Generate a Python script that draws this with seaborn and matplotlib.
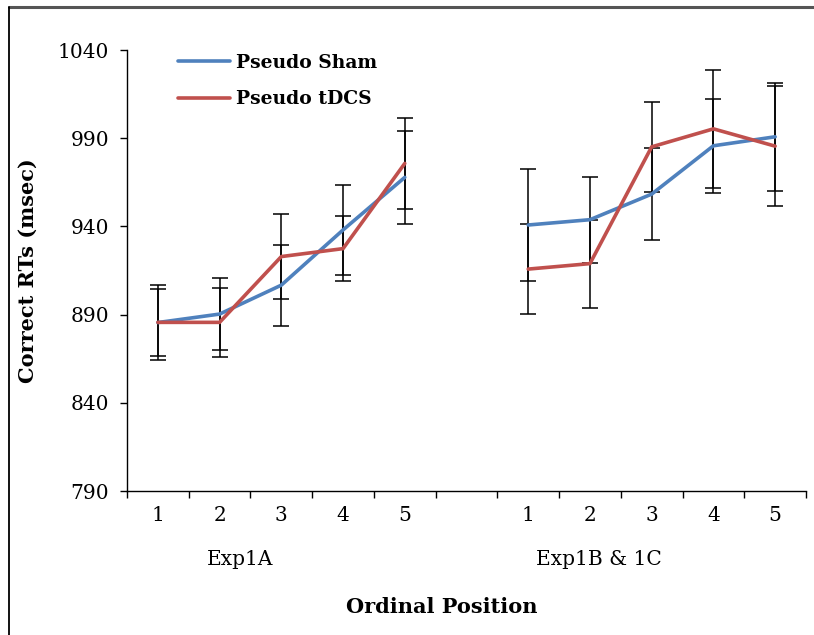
import matplotlib
matplotlib.use("Agg")
import matplotlib.pyplot as plt
from matplotlib.lines import Line2D
from matplotlib.ticker import FixedLocator, NullFormatter
import seaborn as sns
import pandas as pd
import numpy as np

# ---- data ----
positions = ["1", "2", "3", "4", "5"]
groups = ["Exp1A", "Exp1B & 1C"]
series = ["Pseudo Sham", "Pseudo tDCS"]

sham_1a = [885.5, 890.3, 906.7, 938.0, 967.8]
tdcs_1a = [885.6, 885.6, 922.9, 927.4, 975.7]
sham_1bc = [940.8, 943.8, 958.3, 985.7, 990.8]
tdcs_1bc = [915.8, 918.9, 985.1, 995.3, 985.5]

sham_1a_err = [21.5, 20.5, 23.0, 25.6, 26.2]
tdcs_1a_err = [19.1, 19.6, 24.0, 18.3, 25.8]
sham_1bc_err = [31.8, 24.4, 25.9, 26.8, 30.5]
tdcs_1bc_err = [25.4, 24.9, 25.4, 33.3, 34.2]

y_ticks = [790, 840, 890, 940, 990, 1040]

# category slots: group 1 in 0..4, empty slot 5, group 2 in 6..10
tick_labels = positions + [""] + positions
slot_1a = list(range(0, 5))
slot_1bc = list(range(6, 11))

rows = []
for s, vals_a, vals_b, err_a, err_b in [
    (series[0], sham_1a, sham_1bc, sham_1a_err, sham_1bc_err),
    (series[1], tdcs_1a, tdcs_1bc, tdcs_1a_err, tdcs_1bc_err),
]:
    for x, v, e in zip(slot_1a, vals_a, err_a):
        rows.append(dict(x=x, rt=v, err=e, series=s, group=groups[0]))
    for x, v, e in zip(slot_1bc, vals_b, err_b):
        rows.append(dict(x=x, rt=v, err=e, series=s, group=groups[1]))
df = pd.DataFrame(rows)

sns.set_theme(style="white")
plt.rcParams["font.family"] = ["DejaVu Serif"]
for key in ["text.color", "axes.labelcolor", "xtick.color", "ytick.color"]:
    plt.rcParams[key] = "black"

fig = plt.figure(figsize=(8.14, 6.35), dpi=100)
ax = fig.add_axes([127 / 814, 1 - 491 / 635, (806 - 127) / 814, (491 - 50) / 635])

palette = {series[0]: "#4F81BD", series[1]: "#C0504D"}

# error bars (behind lines)
for s in series:
    d = df[df.series == s]
    ax.errorbar(d.x, d.rt, yerr=d.err, fmt="none", ecolor="black",
                elinewidth=1.1, capsize=6, capthick=1.1, zorder=2)

sns.lineplot(data=df, x="x", y="rt", hue="series", units="group",
             estimator=None, palette=palette, linewidth=2.6, ax=ax,
             zorder=3, legend=False)

ax.set_xlim(-0.5, 10.5)
ax.set_ylim(790, 1040)
ax.set_yticks(y_ticks)
ax.set_yticklabels([str(v) for v in y_ticks], fontsize=14.5)

# ticks at category boundaries, labels at category centers
ax.xaxis.set_major_locator(FixedLocator(np.arange(-0.5, 11, 1.0)))
ax.xaxis.set_major_formatter(NullFormatter())
ax.set_xticks(np.arange(0, 11), minor=True)
ax.set_xticklabels(tick_labels, minor=True, fontsize=14.5)
ax.tick_params(axis="x", which="minor", length=0, pad=11)
ax.tick_params(axis="x", which="major", direction="out", length=5,
               width=1, color="black", bottom=True)
ax.tick_params(axis="y", direction="out", length=5, width=1,
               color="black", left=True, pad=8)

for side in ["top", "right"]:
    ax.spines[side].set_visible(False)
for side in ["left", "bottom"]:
    ax.spines[side].set_color("black")
    ax.spines[side].set_linewidth(1.0)
ax.grid(False)

ax.set_xlabel("Ordinal Position", fontsize=15, fontweight="bold")
ax.xaxis.set_label_coords((442 - 127) / (806 - 127), -(607 - 491) / 441)
ax.xaxis.label.set_va("center")
ax.set_ylabel("Correct RTs (msec)", fontsize=15, fontweight="bold", labelpad=14)

# group labels
ax.text(1.33, -0.155, groups[0], transform=ax.get_xaxis_transform(),
        ha="center", va="center", fontsize=14.5)
ax.text(7.15, -0.155, groups[1], transform=ax.get_xaxis_transform(),
        ha="center", va="center", fontsize=14.5)

handles = [Line2D([], [], color=palette[s], linewidth=2.6) for s in series]
leg = ax.legend(handles, series, loc="upper left", bbox_to_anchor=(0.05, 1.03),
                frameon=False, prop=dict(size=13.5, weight="bold"),
                handlelength=2.8, handletextpad=0.3, labelspacing=1.0)

# outer frame (top and left, as in the cropped reference)
fig.add_artist(Line2D([9 / 814, 1.0], [1 - 7 / 635, 1 - 7 / 635],
                      transform=fig.transFigure, color="#555555", linewidth=2.2))
fig.add_artist(Line2D([9 / 814, 9 / 814], [0, 1 - 7 / 635],
                      transform=fig.transFigure, color="black", linewidth=1.3))

fig.savefig("out.png", dpi=100)
